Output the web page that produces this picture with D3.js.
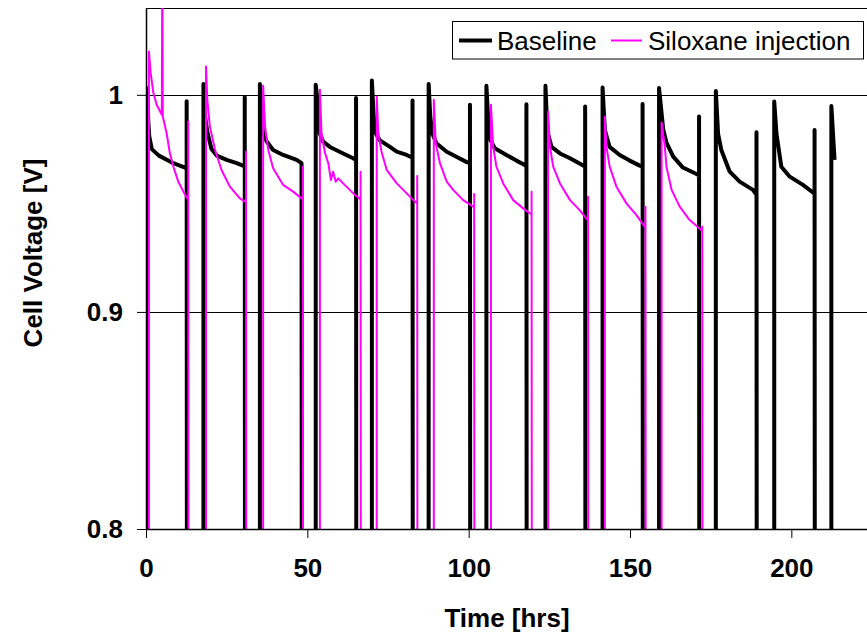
<!DOCTYPE html>
<html>
<head>
<meta charset="utf-8">
<script src="https://cdn.jsdelivr.net/npm/d3@7"></script>
<style>
  body { margin: 0; background: #fff; }
  text { font-family: Arial, "Liberation Sans", sans-serif; }
</style>
</head>
<body>
<div id="chart"></div>
<script>
var xTicks = [0, 50, 100, 150, 200];
var yTicks = [0.8, 0.9, 1.0];
var yTickLabels = ["0.8", "0.9", "1"];
var seriesNames = ["Baseline", "Siloxane injection"];

// [hrs, volts] per run; 0.7 means the cell is off (below the axis)
var baseline = [
  [[0.4,0.7],[0.4,1.003],[0.7,0.988],[1.0,0.981],[1.8,0.975],[4.0,0.972],[8.5,0.9685],[12.1,0.9665],[12.6,0.966],[12.6,0.997],[12.7,0.7]],
  [[17.8,0.7],[17.8,1.005],[18.3,0.99],[19.0,0.983],[20.3,0.975],[21.9,0.972],[25.0,0.970],[28.1,0.9685],[30.6,0.967],[30.6,0.999],[30.7,0.7]],
  [[35.3,0.7],[35.3,1.005],[35.8,0.99],[36.3,0.982],[37.4,0.9785],[39.4,0.9746],[42.5,0.9723],[46.7,0.970],[48.2,0.9685],[48.3,0.7]],
  [[52.6,0.7],[52.6,1.0046],[53.4,0.9946],[53.9,0.982],[54.9,0.9785],[57.0,0.976],[61.1,0.973],[64.2,0.9708],[65.1,0.970],[65.1,0.9985],[65.2,0.7]],
  [[70.0,0.7],[70.0,1.0066],[70.5,0.992],[70.9,0.983],[72.5,0.979],[75.6,0.976],[77.7,0.9738],[80.8,0.9723],[82.6,0.971],[82.6,0.9974],[82.7,0.7]],
  [[87.6,0.7],[87.6,1.005],[88.1,0.99],[88.8,0.982],[90.0,0.9777],[93.2,0.9738],[96.2,0.9715],[99.4,0.969],[100.4,0.9685],[100.4,0.9954],[100.5,0.7]],
  [[105.5,0.7],[105.5,1.0042],[106.0,0.99],[106.8,0.979],[108.1,0.9754],[111.7,0.9723],[114.8,0.9697],[117.4,0.9677],[117.9,0.967],[117.9,0.9957],[118.0,0.7]],
  [[123.8,0.7],[123.8,1.0042],[124.2,0.99],[124.6,0.982],[125.7,0.976],[128.3,0.973],[131.4,0.9708],[135.5,0.9674],[136.1,0.967],[136.1,0.9946],[136.2,0.7]],
  [[141.5,0.7],[141.5,1.0034],[142.2,0.9838],[143.7,0.976],[146.8,0.9723],[149.9,0.9697],[153.0,0.9674],[153.9,0.967],[153.9,0.9958],[154.0,0.7]],
  [[159.0,0.7],[159.0,1.0031],[160.3,0.984],[161.3,0.978],[163.4,0.9715],[166.4,0.9665],[170.6,0.9635],[171.4,0.963],[171.4,0.990],[171.5,0.7]],
  [[176.6,0.7],[176.6,1.0018],[177.3,0.982],[178.3,0.9746],[180.9,0.9646],[184.0,0.960],[188.1,0.9562],[189.2,0.954],[189.2,0.9828],[189.3,0.7]],
  [[194.7,0.7],[194.7,0.9969],[195.4,0.982],[196.9,0.9669],[199.5,0.9623],[203.6,0.9585],[206.7,0.955],[207.2,0.9545],[207.2,0.9838],[207.3,0.7]],
  [[212.4,0.7],[212.4,0.9949],[213.4,0.970]]
];

var siloxane = [
  [[0.9,0.7],[0.9,1.020],[1.45,1.010],[2.3,1.0008],[3.3,0.9954],[4.9,0.9908],[5.05,1.06],[5.2,0.990],[6.4,0.9823],[7.4,0.9731],[8.5,0.9669],[10.0,0.960],[11.6,0.9554],[12.8,0.9523],[13.1,0.952],[13.1,0.9877],[13.2,0.7]],
  [[18.6,0.7],[18.6,1.0131],[19.0,0.9977],[19.8,0.9854],[21.4,0.9746],[23.4,0.9654],[26.0,0.9577],[29.1,0.9523],[30.7,0.9508],[31.0,0.9505],[31.0,0.9738],[31.1,0.7]],
  [[36.3,0.7],[36.3,1.0042],[36.9,0.9854],[37.9,0.9746],[39.4,0.9662],[42.5,0.9585],[45.6,0.9554],[48.2,0.9523],[48.6,0.952],[48.6,0.9669],[48.7,0.7]],
  [[53.9,0.7],[53.9,1.0023],[54.4,0.9823],[55.5,0.9731],[56.5,0.9685],[57.3,0.9608],[58.0,0.9646],[58.8,0.960],[59.6,0.9615],[61.1,0.9592],[63.7,0.9554],[66.3,0.952],[66.5,0.952],[66.5,0.9646],[66.6,0.7]],
  [[71.5,0.7],[71.5,0.9992],[72.0,0.9823],[73.0,0.9738],[74.6,0.9654],[77.7,0.9592],[80.8,0.9546],[83.3,0.9508],[84.05,0.950],[84.05,0.9626],[84.15,0.7]],
  [[89.2,0.7],[89.2,0.9977],[89.8,0.9777],[91.1,0.9685],[93.2,0.960],[95.2,0.9562],[98.3,0.9515],[101.4,0.9485],[101.7,0.948],[101.7,0.9543],[101.8,0.7]],
  [[106.9,0.7],[106.9,0.9954],[107.6,0.9762],[108.6,0.9669],[110.7,0.9592],[113.8,0.9515],[116.9,0.9477],[119.0,0.9454],[119.5,0.945],[119.5,0.9554],[119.6,0.7]],
  [[124.6,0.7],[124.6,0.9923],[125.2,0.9762],[126.2,0.9669],[128.3,0.9592],[131.4,0.9515],[134.4,0.9469],[136.5,0.943],[137.0,0.9425],[137.0,0.9531],[137.1,0.7]],
  [[142.2,0.7],[142.2,0.990],[142.7,0.9762],[143.7,0.9669],[145.8,0.9577],[148.9,0.950],[152.0,0.9446],[154.6,0.9392],[154.8,0.939],[154.8,0.9485],[154.9,0.7]],
  [[159.8,0.7],[159.8,0.9872],[160.8,0.9762],[161.3,0.9669],[162.9,0.9562],[165.4,0.9485],[168.5,0.9423],[172.1,0.9377],[172.4,0.9375],[172.4,0.9392],[172.5,0.7]]
];

var W = 867, H = 633;
var plotLeft = 146, plotRight = 872, plotTop = 8, plotBottom = 529;

var svg = d3.select("#chart").append("svg")
  .attr("width", W)
  .attr("height", H);

var x = d3.scaleLinear().domain([0, 225]).range([plotLeft, plotRight]);
var y = d3.scaleLinear().domain([0.8, 1.04]).range([plotBottom, plotTop]);

svg.append("clipPath").attr("id", "plot")
  .append("rect")
    .attr("x", plotLeft).attr("y", plotTop)
    .attr("width", plotRight - plotLeft).attr("height", plotBottom - plotTop);

// gridlines at 0.9 and 1
svg.append("g")
  .selectAll("line")
  .data(yTicks.slice(1))
  .enter().append("line")
    .attr("x1", plotLeft).attr("x2", plotRight)
    .attr("y1", function(d) { return Math.round(y(d)) + 0.5; })
    .attr("y2", function(d) { return Math.round(y(d)) + 0.5; })
    .attr("stroke", "#000")
    .attr("stroke-width", 1);

// top border
svg.append("line")
  .attr("x1", plotLeft).attr("x2", plotRight)
  .attr("y1", plotTop + 0.5).attr("y2", plotTop + 0.5)
  .attr("stroke", "#000");

var line = d3.line()
  .x(function(d) { return x(d[0]); })
  .y(function(d) { return y(d[1]); });

var plot = svg.append("g").attr("clip-path", "url(#plot)");

plot.append("path")
  .datum(d3.merge(baseline))
  .attr("fill", "none")
  .attr("stroke", "#000")
  .attr("stroke-width", 4)
  .attr("stroke-linejoin", "round")
  .attr("d", line);

plot.append("path")
  .datum(d3.merge(siloxane))
  .attr("fill", "none")
  .attr("stroke", "#ff00ff")
  .attr("stroke-width", 2)
  .attr("stroke-linejoin", "round")
  .attr("d", line);

// axes
var yAxis = svg.append("g")
  .attr("transform", "translate(" + plotLeft + ",0)")
  .call(d3.axisLeft(y).tickValues(yTicks).tickSize(9).tickSizeOuter(0).tickPadding(14)
    .tickFormat(function(d, i) { return yTickLabels[i]; }));

var xAxis = svg.append("g")
  .attr("transform", "translate(0," + plotBottom + ")")
  .call(d3.axisBottom(x).tickValues(xTicks).tickSize(9).tickSizeOuter(0).tickPadding(21));

[yAxis, xAxis].forEach(function(a) {
  a.select(".domain").attr("stroke", "#000").attr("stroke-width", 1.5);
  a.selectAll(".tick line").attr("stroke", "#000");
  a.selectAll(".tick text")
    .attr("fill", "#000")
    .style("font-family", "Arial, 'Liberation Sans', sans-serif")
    .style("font-size", "26px")
    .style("font-weight", "bold");
});

// axis titles
svg.append("text")
  .attr("x", (plotLeft + plotRight) / 2 - 2)
  .attr("y", 627)
  .attr("text-anchor", "middle")
  .style("font-size", "26px")
  .style("font-weight", "bold")
  .text("Time [hrs]");

svg.append("text")
  .attr("transform", "translate(42,253) rotate(-90)")
  .attr("text-anchor", "middle")
  .style("font-size", "26px")
  .style("font-weight", "bold")
  .text("Cell Voltage [V]");

// legend
var legend = svg.append("g");
legend.append("rect")
  .attr("x", 452.5).attr("y", 21.5)
  .attr("width", 411).attr("height", 37.5)
  .attr("fill", "#fff")
  .attr("stroke", "#000");

var legendItems = [
  { name: seriesNames[0], color: "#000", width: 4, x0: 459, x1: 492, tx: 497 },
  { name: seriesNames[1], color: "#ff00ff", width: 2, x0: 611, x1: 642, tx: 648 }
];
legendItems.forEach(function(d) {
  legend.append("line")
    .attr("x1", d.x0).attr("x2", d.x1)
    .attr("y1", 40.5).attr("y2", 40.5)
    .attr("stroke", d.color)
    .attr("stroke-width", d.width);
  legend.append("text")
    .attr("x", d.tx).attr("y", 50)
    .style("font-size", "26px")
    .text(d.name);
});
</script>
</body>
</html>
